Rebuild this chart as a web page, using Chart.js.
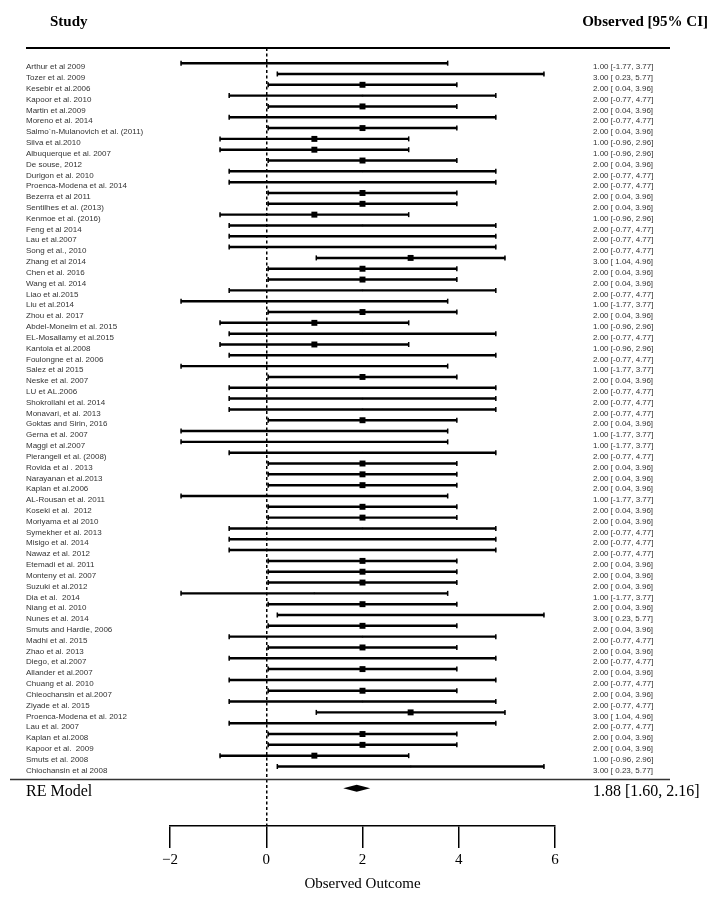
<!DOCTYPE html>
<html>
<head>
<meta charset="utf-8">
<title>Forest plot</title>
<script src="https://cdn.jsdelivr.net/npm/chart.js@4.4.1/dist/chart.umd.min.js"></script>
<style>
  html, body { margin: 0; padding: 0; background: #fff; }
  canvas { display: block; }
</style>
</head>
<body>
<canvas id="forest" width="724" height="890"></canvas>
<script>
// study labels, top to bottom
const studies = [
    "Arthur et al 2009", "Tozer et al. 2009", "Kesebir et al.2006", "Kapoor et al. 2010",
    "Martin et al.2009", "Moreno et al. 2014", "Salmo\u00b4n-Mulanovich et al. (2011)", "Silva et al.2010",
    "Albuquerque et al. 2007", "De souse, 2012", "Durigon et al. 2010", "Proenca-Modena et al. 2014",
    "Bezerra et al 2011", "Sentilhes et al. (2013)", "Kenmoe et al. (2016)", "Feng et al 2014",
    "Lau et al.2007", "Song et al., 2010", "Zhang et al 2014", "Chen et al. 2016",
    "Wang et al. 2014", "Liao et al.2015", "Liu et al.2014", "Zhou et al. 2017",
    "Abdel-Moneim et al. 2015", "EL-Mosallamy et al.2015", "Kantola et al.2008", "Foulongne et al. 2006",
    "Salez et al 2015", "Neske et al. 2007", "LU et AL.2006", "Shokrollahi et al. 2014",
    "Monavari, et al. 2013", "Goktas and Sirin, 2016", "Gerna et al. 2007", "Maggi et al.2007",
    "Pierangeli et al. (2008)", "Rovida et al . 2013", "Narayanan et al.2013", "Kaplan et al.2006",
    "AL-Rousan et al. 2011", "Koseki et al.  2012", "Moriyama et al 2010", "Symekher et al. 2013",
    "Misigo et al. 2014", "Nawaz et al. 2012", "Etemadi et al. 2011", "Monteny et al. 2007",
    "Suzuki et al.2012", "Dia et al.  2014", "Niang et al. 2010", "Nunes et al. 2014",
    "Smuts and Hardie, 2006", "Madhi et al. 2015", "Zhao et al. 2013", "Diego, et al.2007",
    "Allander et al.2007", "Chuang et al. 2010", "Chieochansin et al.2007", "Ziyade et al. 2015",
    "Proenca-Modena et al. 2012", "Lau et al. 2007", "Kaplan et al.2008", "Kapoor et al.  2009",
    "Smuts et al. 2008", "Chiochansin et al 2008"
];

const estimate = [
    1, 3, 2, 2, 2, 2, 2, 1, 1, 2,
    2, 2, 2, 2, 1, 2, 2, 2, 3, 2,
    2, 2, 1, 2, 1, 2, 1, 2, 1, 2,
    2, 2, 2, 2, 1, 1, 2, 2, 2, 2,
    1, 2, 2, 2, 2, 2, 2, 2, 2, 1,
    2, 3, 2, 2, 2, 2, 2, 2, 2, 2,
    3, 2, 2, 2, 1, 3
];

const lower = [
    -1.77, 0.23, 0.04, -0.77, 0.04, -0.77, 0.04, -0.96, -0.96, 0.04,
    -0.77, -0.77, 0.04, 0.04, -0.96, -0.77, -0.77, -0.77, 1.04, 0.04,
    0.04, -0.77, -1.77, 0.04, -0.96, -0.77, -0.96, -0.77, -1.77, 0.04,
    -0.77, -0.77, -0.77, 0.04, -1.77, -1.77, -0.77, 0.04, 0.04, 0.04,
    -1.77, 0.04, 0.04, -0.77, -0.77, -0.77, 0.04, 0.04, 0.04, -1.77,
    0.04, 0.23, 0.04, -0.77, 0.04, -0.77, 0.04, -0.77, 0.04, -0.77,
    1.04, -0.77, 0.04, 0.04, -0.96, 0.23
];

const upper = [
    3.77, 5.77, 3.96, 4.77, 3.96, 4.77, 3.96, 2.96, 2.96, 3.96,
    4.77, 4.77, 3.96, 3.96, 2.96, 4.77, 4.77, 4.77, 4.96, 3.96,
    3.96, 4.77, 3.77, 3.96, 2.96, 4.77, 2.96, 4.77, 3.77, 3.96,
    4.77, 4.77, 4.77, 3.96, 3.77, 3.77, 4.77, 3.96, 3.96, 3.96,
    3.77, 3.96, 3.96, 4.77, 4.77, 4.77, 3.96, 3.96, 3.96, 3.77,
    3.96, 5.77, 3.96, 4.77, 3.96, 4.77, 3.96, 4.77, 3.96, 4.77,
    4.96, 4.77, 3.96, 3.96, 2.96, 5.77
];

// random effects summary
const reLabel = "RE Model";
const reEstimate = 1.88;
const reLower = 1.60;
const reUpper = 2.16;

const xTicks = [-2, 0, 2, 4, 6];

const SANS = '"Liberation Sans", Arial, sans-serif';
const SERIF = '"Liberation Serif", "DejaVu Serif", serif';
const RE_ROW = 68;

function ciText(e, l, h) {
    const lo = l < 0 ? l.toFixed(2) : ' ' + l.toFixed(2);
    return `${e.toFixed(2)} [${lo}, ${h.toFixed(2)}]`;
}

// square size follows the inverse-variance weight
function markerRadius(l, h) {
    const se = (h - l) / 3.92;
    const w = 1 / (se * se);
    return 4.2 * w * w;
}

const rows = studies.map((s, i) => i + 1);
const tickRows = rows.concat([RE_ROW]);
const leftLabels = studies.concat([reLabel]);
const rightLabels = studies.map((s, i) => ciText(estimate[i], lower[i], upper[i]))
    .concat([ciText(reEstimate, reLower, reUpper).replace('[ ', '[')]);

const ciData = rows.map((r, i) => ({ y: r, x: [lower[i], upper[i]] }));
const capData = rows.flatMap((r, i) => [{ x: lower[i], y: r }, { x: upper[i], y: r }]);
const estData = rows.map((r, i) => ({ x: estimate[i], y: r }));
const estSizes = rows.map((r, i) => markerRadius(lower[i], upper[i]));

function isRE(ctx) {
    return ctx.tick && ctx.tick.value === RE_ROW;
}

function labelAxis(position, labels, width) {
    return {
        type: 'linear',
        position: position,
        reverse: true,
        min: -0.4,
        max: 71.5,
        offset: false,
        grid: { display: false, drawTicks: false, offset: false },
        border: { display: false },
        afterBuildTicks: axis => { axis.ticks = tickRows.map(v => ({ value: v })); },
        afterFit: axis => { axis.width = width; },
        ticks: {
            autoSkip: false,
            crossAlign: position === 'left' ? 'far' : 'near',
            padding: 38,
            labelOffset: 4,
            callback: (v, i) => labels[i],
            font: ctx => isRE(ctx) ? { family: SERIF, size: 16 } : { family: SANS, size: 8 },
            color: ctx => isRE(ctx) ? '#000' : '#333'
        }
    };
}

// header, separator lines and summary diamond
const extras = {
    id: 'extras',
    afterDraw(chart) {
        const { ctx, scales, chartArea } = chart;
        const x = scales.x, y = scales.y;
        ctx.save();
        ctx.fillStyle = '#000';
        ctx.font = 'bold 15px ' + SERIF;
        ctx.textBaseline = 'middle';
        ctx.textAlign = 'left';
        ctx.fillText('Study', 50, 22);
        ctx.textAlign = 'right';
        ctx.fillText('Observed [95% CI]', 708, 22);

        ctx.strokeStyle = '#000';
        ctx.lineWidth = 2;
        ctx.beginPath();
        ctx.moveTo(26, chartArea.top);
        ctx.lineTo(670, chartArea.top);
        ctx.stroke();

        const sepY = y.getPixelForValue(67.2);
        ctx.strokeStyle = '#333';
        ctx.lineWidth = 1.5;
        ctx.beginPath();
        ctx.moveTo(10, sepY);
        ctx.lineTo(670, sepY);
        ctx.stroke();

        const yc = y.getPixelForValue(RE_ROW);
        ctx.fillStyle = '#000';
        ctx.beginPath();
        ctx.moveTo(x.getPixelForValue(reLower), yc);
        ctx.lineTo(x.getPixelForValue(reEstimate), yc - 3.5);
        ctx.lineTo(x.getPixelForValue(reUpper), yc);
        ctx.lineTo(x.getPixelForValue(reEstimate), yc + 3.5);
        ctx.closePath();
        ctx.fill();
        ctx.restore();
    }
};

new Chart(document.getElementById('forest'), {
    type: 'scatter',
    data: {
        datasets: [
            {
                type: 'scatter',
                data: estData,
                pointStyle: 'rect',
                pointRadius: estSizes,
                pointBackgroundColor: '#000',
                pointBorderWidth: 0,
                xAxisID: 'x',
                yAxisID: 'y'
            },
            {
                type: 'scatter',
                data: capData,
                pointStyle: 'line',
                pointRotation: 90,
                pointRadius: 2.5,
                pointBorderColor: '#000',
                pointBorderWidth: 1.5,
                xAxisID: 'x',
                yAxisID: 'y'
            },
            {
                type: 'bar',
                indexAxis: 'y',
                data: ciData,
                backgroundColor: '#000',
                borderWidth: 0,
                barThickness: 1.8,
                xAxisID: 'x',
                yAxisID: 'y'
            }
        ]
    },
    options: {
        responsive: false,
        animation: false,
        devicePixelRatio: 1,
        layout: { padding: { top: 48, left: 26, right: 0, bottom: 0 } },
        plugins: {
            legend: { display: false },
            tooltip: { enabled: false }
        },
        scales: {
            x: {
                type: 'linear',
                position: 'bottom',
                min: -2,
                max: 6,
                offset: false,
                beginAtZero: false,
                afterBuildTicks: axis => { axis.ticks = xTicks.map(v => ({ value: v })); },
                afterFit: axis => { axis.height = 64; },
                grid: {
                    offset: false,
                    color: ctx => ctx.tick && ctx.tick.value === 0 ? '#000' : 'rgba(0,0,0,0)',
                    lineWidth: 1.5,
                    drawTicks: true,
                    tickLength: 22,
                    tickColor: '#000',
                    tickWidth: 1.5
                },
                border: { display: true, color: '#000', width: 1.5, dash: [3, 2.5] },
                ticks: {
                    padding: 3,
                    color: '#000',
                    font: { family: SERIF, size: 15 },
                    callback: v => v < 0 ? '\u2212' + Math.abs(v) : String(v)
                },
                title: {
                    display: true,
                    text: 'Observed Outcome',
                    color: '#000',
                    padding: 0,
                    font: { family: SERIF, size: 15, lineHeight: 0.8 }
                }
            },
            y: labelAxis('left', leftLabels, 144),
            y2: labelAxis('right', rightLabels, 169)
        }
    },
    plugins: [extras]
});
</script>
</body>
</html>
